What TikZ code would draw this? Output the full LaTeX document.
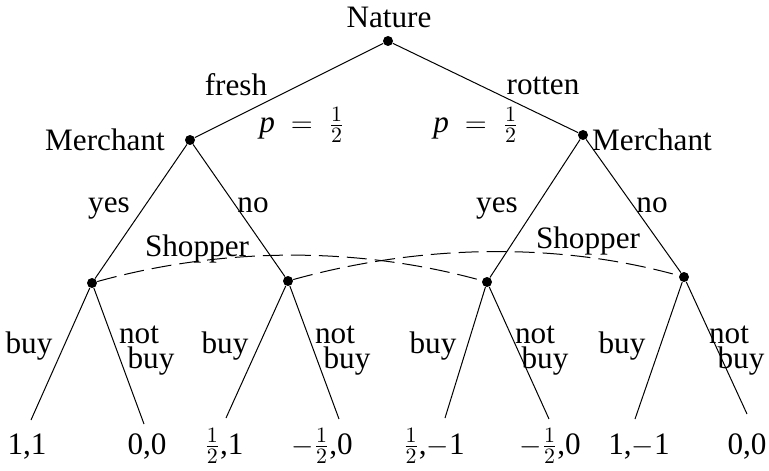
\documentclass[tikz,border=0pt]{standalone}
\usepackage{fontspec}
\setmainfont{Liberation Serif}
\begin{document}
\begin{tikzpicture}[x=0.5pt,y=-0.5pt,
  font=\fontsize{15.6}{18}\selectfont,
  dot/.style={circle,fill=black,inner sep=0pt,minimum size=5pt},
  edge/.style={line width=0.5pt},
  info/.style={line width=0.5pt,dash pattern=on 10pt off 4pt},
  lbl/.style={inner sep=0pt,anchor=base}]
\useasboundingbox (0,0) rectangle (769,470);
% decision nodes
\node[dot] (n) at (388,41) {};
\node[dot] (m1) at (190,140) {};
\node[dot] (m2) at (583,135) {};
\node[dot] (s1) at (92,283) {};
\node[dot] (s2) at (288,281) {};
\node[dot] (s3) at (487,282) {};
\node[dot] (s4) at (684,277) {};
% leaves
\coordinate (t1) at (31,420);
\coordinate (t2) at (144,424);
\coordinate (t3) at (226,418);
\coordinate (t4) at (339,419);
\coordinate (t5) at (445,418);
\coordinate (t6) at (549,419);
\coordinate (t7) at (635,419);
\coordinate (t8) at (747,414);
% edges
\draw[edge] (n) -- (m1);
\draw[edge] (n) -- (m2);
\draw[edge] (m1) -- (s1);
\draw[edge] (m1) -- (s2);
\draw[edge] (m2) -- (s3);
\draw[edge] (m2) -- (s4);
\draw[edge] (s1) -- (t1);
\draw[edge] (s1) -- (t2);
\draw[edge] (s2) -- (t3);
\draw[edge] (s2) -- (t4);
\draw[edge] (s3) -- (t5);
\draw[edge] (s3) -- (t6);
\draw[edge] (s4) -- (t7);
\draw[edge] (s4) -- (t8);
% information sets
\draw[info] (s1) .. controls +(130,-36) and +(-130,-36) .. (s3);
\draw[info] (s2) .. controls +(130,-36) and +(-130,-36) .. (s4);
% player labels
\node[lbl] (ln) at (389,28) {Nature};
\node[lbl] (lm1) at (105,151) {Merchant};
\node[lbl] (lm2) at (652,151) {Merchant};
\node[lbl] (lsh1) at (197,256) {Shopper};
\node[lbl] (lsh2) at (588,248) {Shopper};
% action labels
\node[lbl] (lf) at (236,96) {fresh};
\node[lbl] (lr) at (543,95) {rotten};
\node[inner sep=0pt] (pf) at (302,125) {\textit{p} $\;=\;\frac{1}{2}$};
\node[inner sep=0pt] (pr) at (476,125) {\textit{p} $\;=\;\frac{1}{2}$};
\node[lbl] (y1) at (109,213) {yes};
\node[lbl] (o1) at (253,213) {no};
\node[lbl] (y2) at (497,213) {yes};
\node[lbl] (o2) at (652,213) {no};
\node[lbl] (b1) at (29,353) {buy};
\node[lbl] (nb1a) at (139,343) {not};
\node[lbl] (nb1b) at (151,368) {buy};
\node[lbl] (b2) at (225,353) {buy};
\node[lbl] (nb2a) at (335,343) {not};
\node[lbl] (nb2b) at (347,368) {buy};
\node[lbl] (b3) at (433,353) {buy};
\node[lbl] (nb3a) at (535,343) {not};
\node[lbl] (nb3b) at (545,368) {buy};
\node[lbl] (b4) at (622,353) {buy};
\node[lbl] (nb4a) at (729,343) {not};
\node[lbl] (nb4b) at (741,368) {buy};
% payoffs
\node[lbl] (p1) at (27,454) {1,1};
\node[lbl] (p2) at (147,454) {0,0};
\node[lbl] (p3) at (224,454) {$\frac{1}{2}$,1};
\node[lbl] (p4) at (322,454) {$-\frac{1}{2}$,0};
\node[lbl] (p5) at (434,454) {$\frac{1}{2}$,$-$1};
\node[lbl] (p6) at (550,454) {$-\frac{1}{2}$,0};
\node[lbl] (p7) at (639,454) {1,$-$1};
\node[lbl] (p8) at (747,454) {0,0};
\end{tikzpicture}
\end{document}
